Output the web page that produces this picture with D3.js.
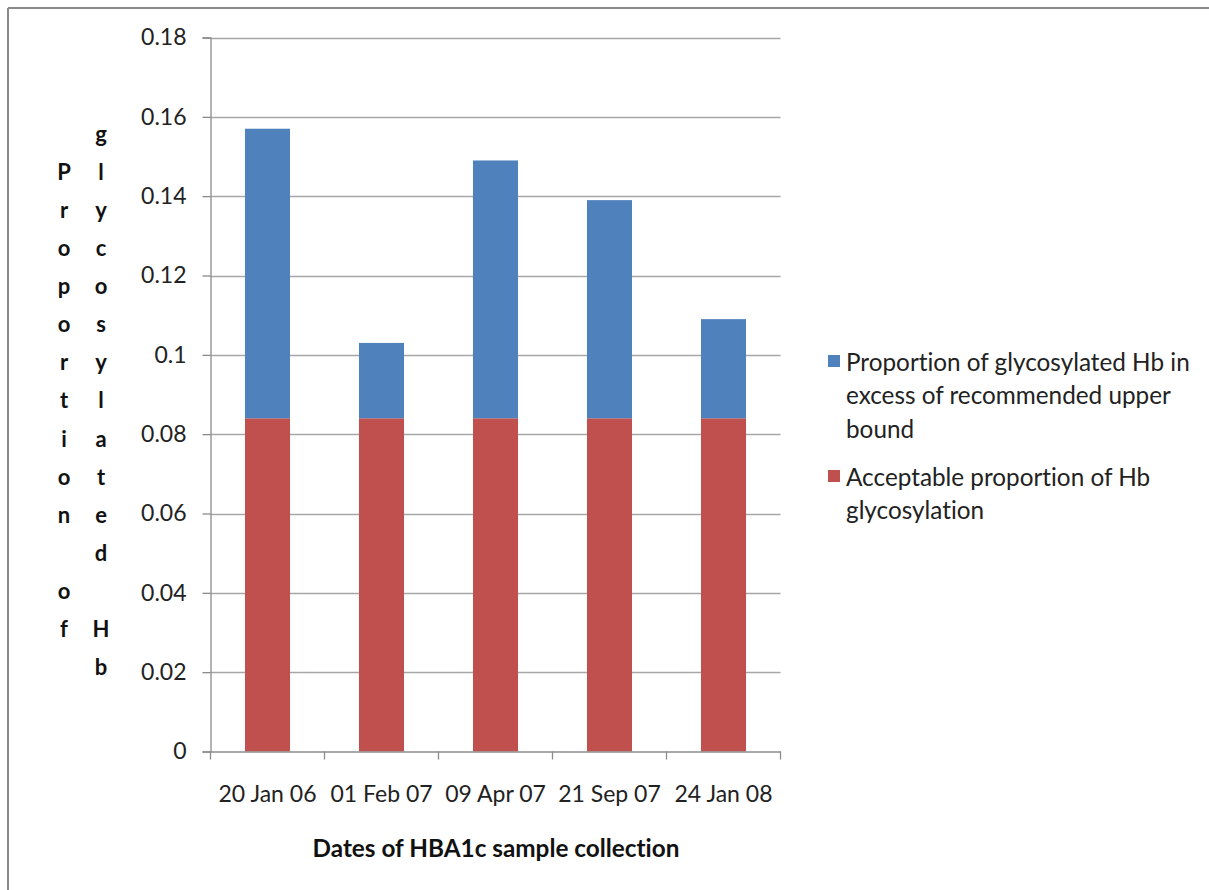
<!DOCTYPE html>
<html>
<head>
<meta charset="utf-8">
<script src="https://cdn.jsdelivr.net/npm/d3@7/dist/d3.min.js"></script>
<style>
  html, body { margin: 0; padding: 0; background: #fff; }
  svg { display: block; font-family: Lato, "Open Sans", sans-serif; font-variant-ligatures: none; }
</style>
</head>
<body>
<svg id="chart" width="1209" height="890"></svg>
<script>
// Sample collection dates
const dates = ["20 Jan 06", "01 Feb 07", "09 Apr 07", "21 Sep 07", "24 Jan 08"];
// Acceptable glycosylation (upper bound) per sample
const acceptable = [0.084, 0.084, 0.084, 0.084, 0.084];
// Glycosylation in excess of the recommended upper bound
const excess = [0.073, 0.019, 0.065, 0.055, 0.025];
const yTicks = [0, 0.02, 0.04, 0.06, 0.08, 0.1, 0.12, 0.14, 0.16, 0.18];
const seriesNames = [
  ["Proportion of glycosylated Hb in", "excess of recommended upper", "bound"],
  ["Acceptable proportion of Hb", "glycosylation"]
];
const yTitleCols = ["Proportion of", "glycosylated Hb"];
const xTitle = "Dates of HBA1c sample collection";

const colors = { excess: "#4F81BD", acceptable: "#C0504D" };

const svg = d3.select("#chart");
const plot = { left: 210.5, right: 780.5, top: 37.5, bottom: 751.5 };

// Outer frame: top and left edges
svg.append("line").attr("x1", 8).attr("x2", 1209).attr("y1", 8).attr("y2", 8)
  .attr("stroke", "#8a8a8a").attr("stroke-width", 2);
svg.append("line").attr("x1", 8).attr("x2", 8).attr("y1", 8).attr("y2", 890)
  .attr("stroke", "#8a8a8a").attr("stroke-width", 2);

const x = d3.scaleBand().domain(dates).range([plot.left, plot.right])
  .paddingInner(0.605).paddingOuter(0.3025);
const y = d3.scaleLinear().domain([0, 0.18]).range([plot.bottom, plot.top]);

// Gridlines
svg.append("g").selectAll("line").data(yTicks.filter(d => d > 0)).join("line")
  .attr("x1", plot.left).attr("x2", plot.right)
  .attr("y1", d => Math.round(y(d)) + 0.5).attr("y2", d => Math.round(y(d)) + 0.5)
  .attr("stroke", "#a6a6a6").attr("stroke-width", 1.3);

// Stacked bars
const rows = dates.map((d, i) => ({ date: d, acceptable: acceptable[i], excess: excess[i] }));
const stack = d3.stack().keys(["acceptable", "excess"])(rows);
svg.append("g").selectAll("g").data(stack).join("g")
  .attr("fill", s => colors[s.key])
  .selectAll("rect").data(s => s).join("rect")
  .attr("x", d => x(d.data.date))
  .attr("width", x.bandwidth())
  .attr("y", d => y(d[1]))
  .attr("height", d => y(d[0]) - y(d[1]));

// Y axis
const yAxis = svg.append("g").attr("transform", `translate(${plot.left},0)`)
  .call(d3.axisLeft(y).tickValues(yTicks).tickSize(8).tickPadding(16)
    .tickFormat(d => d === 0 ? "0" : String(+d.toFixed(2))));
yAxis.select(".domain").attr("stroke", "#8c8c8c").attr("stroke-width", 1.3);
yAxis.selectAll(".tick line").attr("stroke", "#8c8c8c").attr("stroke-width", 1.3);
yAxis.selectAll(".tick text").attr("font-size", 23).attr("fill", "#222")
  .attr("font-family", "Lato, sans-serif");

// X axis
const xAxis = svg.append("g").attr("transform", `translate(0,${plot.bottom})`)
  .call(d3.axisBottom(x).tickSize(0).tickPadding(34));
xAxis.select(".domain").attr("stroke", "#8c8c8c").attr("stroke-width", 1.3);
xAxis.selectAll(".tick text").attr("font-size", 23).attr("fill", "#222")
  .attr("font-family", "Lato, sans-serif");
// Category boundary ticks
const bounds = dates.map(d => x(d) - x.step() * x.paddingInner() / 2);
bounds.push(plot.right);
bounds[0] = plot.left;
xAxis.append("g").selectAll("line").data(bounds).join("line")
  .attr("x1", d => d).attr("x2", d => d).attr("y1", 0).attr("y2", 8)
  .attr("stroke", "#8c8c8c").attr("stroke-width", 1.3);

// Y axis title, stacked letter by letter in two columns
const rowStep = 38.14, firstRow = 133;
yTitleCols.forEach((txt, c) => {
  const colX = c === 0 ? 64 : 101;
  const offset = c === 0 ? 1 : 0;
  svg.append("g").selectAll("text").data(txt.split("")).join("text")
    .attr("x", colX).attr("y", (ch, i) => firstRow + (i + offset) * rowStep)
    .attr("text-anchor", "middle").attr("dominant-baseline", "central")
    .attr("font-size", 22).attr("font-weight", "bold").attr("fill", "#111")
    .text(ch => ch);
});

// X axis title
svg.append("text").attr("x", 496).attr("y", 847)
  .attr("text-anchor", "middle").attr("dominant-baseline", "central")
  .attr("font-size", 24.3).attr("font-weight", "bold").attr("fill", "#111")
  .text(xTitle);

// Legend
const legendItems = [
  { key: "excess", lines: seriesNames[0], y: 361 },
  { key: "acceptable", lines: seriesNames[1], y: 476 }
];
const lg = svg.append("g");
legendItems.forEach(item => {
  lg.append("rect").attr("x", 828).attr("y", item.y - 6).attr("width", 12).attr("height", 12)
    .attr("fill", colors[item.key]);
  item.lines.forEach((ln, i) => {
    lg.append("text").attr("x", 846).attr("y", item.y + i * 33.5)
      .attr("dominant-baseline", "central")
      .attr("font-size", 24.3).attr("fill", "#222").text(ln);
  });
});
</script>
</body>
</html>
